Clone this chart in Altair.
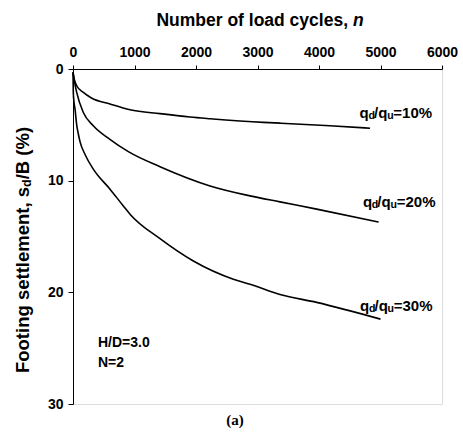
import altair as alt
import pandas as pd

# ---- data ----
n10 = [0, 20, 60, 168, 300, 602, 927, 1415, 1902, 2228, 3095, 3366, 4179, 4830]
s10 = [0.3, 0.9, 1.5, 2.1, 2.6, 3.14, 3.65, 4.0, 4.3, 4.45, 4.78, 4.85, 5.08, 5.3]

n20 = [0, 20, 60, 168, 330, 600, 900, 1415, 2228, 2878, 3366, 3962, 4970]
s20 = [0.3, 1.0, 2.1, 3.9, 5.08, 6.3, 7.4, 8.75, 10.47, 11.36, 11.9, 12.55, 13.7]

n30 = [0, 5, 15, 33, 60, 86, 114, 200, 330, 602, 818, 927, 1415, 1957, 2607, 2878, 3366, 3962, 5000]
s30 = [0.3, 2.1, 2.9, 3.6, 5.0, 5.8, 6.5, 7.7, 8.97, 10.76, 12.26, 13.0, 15.2, 17.2, 18.83, 19.28, 20.2, 20.9, 22.4]

series_names = ["10%", "20%", "30%"]
x_ticks = [0, 1000, 2000, 3000, 4000, 5000, 6000]
y_ticks = [0, 10, 20, 30]

# curve label anchor points (data coords) and texts
label_n = [4660, 4715, 4667]
label_s = [3.95, 11.9, 21.25]
label_tail = ["=10%", "=20%", "=30%"]

rows = []
for name, xs, ys in zip(series_names, [n10, n20, n30], [s10, s20, s30]):
    for a, b in zip(xs, ys):
        rows.append({"ratio": name, "n": a, "s": b})
df = pd.DataFrame(rows)

lab = pd.DataFrame({"n": label_n, "s": label_s, "tail": label_tail})

FONT = "Liberation Sans"
BIG = 14
LBIG = 15
LSUB = 10.5
TITLE = 17.5

xscale = alt.Scale(domain=[0, 6000], nice=False, zero=False)
yscale = alt.Scale(domain=[0, 30], reverse=True, nice=False)

lines = alt.Chart(df).mark_line(color="black", strokeWidth=1.6, interpolate="monotone").encode(
    x=alt.X("n:Q", scale=xscale,
            axis=alt.Axis(orient="top", values=x_ticks, title=None, grid=False,
                          domainColor="black", tickColor="black", tickSize=4,
                          labelFont=FONT, labelFontWeight="bold", labelFontSize=BIG,
                          labelColor="black", labelPadding=6, labelFlush=False, format="d")),
    y=alt.Y("s:Q", scale=yscale,
            axis=alt.Axis(values=y_ticks, title=None, grid=False,
                          domainColor="black", tickColor="black", tickSize=5,
                          labelFont=FONT, labelFontWeight="bold", labelFontSize=BIG,
                          labelColor="black", labelPadding=5, labelFlush=False)),
    detail="ratio:N",
)

# curve label parts: text, x-offset, font size, dy
k = LBIG / 14.0
parts = [("q", 0, LBIG, 0), ("d", 8.3 * k, LSUB, 3), ("/", 13.4 * k, LBIG, 0),
         ("q", 17.4 * k, LBIG, 0), ("u", 25.7 * k, LSUB, 3)]
label_layers = []
for txt, dx, fs, dy in parts:
    label_layers.append(
        alt.Chart(lab).mark_text(text=txt, align="left", baseline="middle", dx=dx, dy=dy,
                                 font=FONT, fontWeight="bold", fontSize=fs, color="black")
        .encode(x=alt.X("n:Q", scale=xscale), y=alt.Y("s:Q", scale=yscale))
    )
label_layers.append(
    alt.Chart(lab).mark_text(align="left", baseline="middle", dx=31.5 * k,
                             font=FONT, fontWeight="bold", fontSize=LBIG, color="black")
    .encode(x=alt.X("n:Q", scale=xscale), y=alt.Y("s:Q", scale=yscale), text="tail:N")
)

note = pd.DataFrame({"n": [406, 406], "s": [24.5, 26.3], "t": ["H/D=3.0", "N=2"]})
notes = alt.Chart(note).mark_text(align="left", baseline="middle", font=FONT,
                                  fontWeight="bold", fontSize=BIG, color="black").encode(
    x=alt.X("n:Q", scale=xscale), y=alt.Y("s:Q", scale=yscale), text="t:N")

# x title (with italic n)
title_main = alt.Chart(pd.DataFrame({"t": ["Number of load cycles,"]})).mark_text(
    align="right", baseline="middle", font=FONT, fontWeight="bold", fontSize=TITLE, color="black"
).encode(x=alt.value(275), y=alt.value(-48), text="t:N")
title_n = alt.Chart(pd.DataFrame({"t": ["n"]})).mark_text(
    align="left", baseline="middle", font=FONT, fontWeight="bold", fontStyle="italic",
    fontSize=TITLE, color="black"
).encode(x=alt.value(280), y=alt.value(-48), text="t:N")

# y title (rotated, with subscript d)
YT = 18.5
YS = 12.5
w_main = 10.057 * YT
w_sub = 0.611 * YS
w_tail = 2.833 * YT
total = w_main + w_sub + w_tail
start = -total / 2
ytitle_parts = [("Footing settlement, s", start, YT, 0),
                ("d", start + w_main, YS, 4),
                ("/B (%)", start + w_main + w_sub, YT, 0)]
ytitle_layers = []
for txt, dx, fs, dy in ytitle_parts:
    ytitle_layers.append(
        alt.Chart(pd.DataFrame({"t": [txt]})).mark_text(
            align="left", baseline="middle", angle=270, dx=dx, dy=dy,
            font=FONT, fontWeight="bold", fontSize=fs, color="black"
        ).encode(x=alt.value(-50), y=alt.value(181), text="t:N")
    )

caption = alt.Chart(pd.DataFrame({"t": ["(a)"]})).mark_text(
    align="center", baseline="middle", font="Liberation Serif", fontWeight="bold",
    fontSize=15, color="black"
).encode(x=alt.value(162), y=alt.value(351), text="t:N")

chart = alt.layer(lines, *label_layers, notes, title_main, title_n, *ytitle_layers, caption).properties(
    width=369, height=335,
    autosize=alt.AutoSizeParams(type="none"),
    padding={"left": 73, "top": 69, "right": 21, "bottom": 37},
).configure_view(stroke="#999999", strokeWidth=1.2).configure(background="white")

chart.save("out.html", embed_options={"renderer": "svg", "actions": False})
